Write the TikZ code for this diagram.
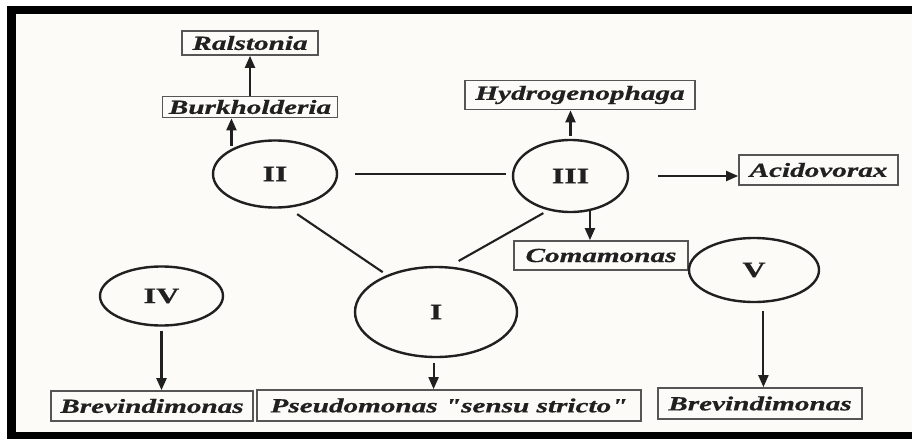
\documentclass[tikz,border=0pt]{standalone}
\usepackage{fontspec}
\setmainfont{Liberation Serif}
\newfontfamily\lblfont[FakeStretch=1.46,FakeBold=0.7]{Liberation Serif}
\usetikzlibrary{shapes.geometric,arrows.meta}
\definecolor{ink}{HTML}{202020}
\definecolor{paper}{HTML}{FCFBF8}
\definecolor{boxline}{HTML}{555555}
\begin{document}
\begin{tikzpicture}[x=1pt,y=-1pt,
  genus/.style={rectangle, draw=boxline, line width=1.7pt, inner sep=0pt, text=ink,
    font=\lblfont\bfseries\itshape\fontsize{20}{20}\selectfont},
  group/.style={ellipse, draw=ink, line width=2.4pt, inner sep=0pt, text=ink,
    font=\lblfont\bfseries\fontsize{22}{22}\selectfont},
  link/.style={draw=ink, line width=2.1pt},
  arrow/.style={link, -{Triangle[length=12pt,width=10pt]}}]
% page, frame and paper
\useasboundingbox (0,0) rectangle (912,439);
\fill[white] (0,0) rectangle (912,439);
\fill[black] (7,6) rectangle (912,439);
\fill[paper] (16,14) rectangle (912,432);

% genera
\node[genus, minimum width=136pt, minimum height=24pt] (ral) at (250,43) {Ralstonia};
\node[genus, minimum width=175pt, minimum height=21pt] (burk) at (250,107) {Burkholderia};
\node[genus, minimum width=230pt, minimum height=29pt] (hyd) at (580,95) {Hydrogenophaga};
\node[genus, minimum width=159pt, minimum height=30pt] (acid) at (818.5,170) {Acidovorax};
\node[genus, minimum width=174pt, minimum height=29pt] (coma) at (601,255.5) {Comamonas};
\node[genus, minimum width=202pt, minimum height=30pt] (brevL) at (152,406) {Brevindimonas};
\node[genus, minimum width=384pt, minimum height=31pt] (pseu) at (449,405.5) {Pseudomonas "sensu stricto"};
\node[genus, minimum width=204pt, minimum height=31pt] (brevR) at (760,403.5) {Brevindimonas};

% rRNA groups
\node[group, minimum width=124pt, minimum height=67pt] (II) at (275,174) {II};
\node[group, minimum width=115pt, minimum height=72pt] (III) at (570.5,176) {III};
\node[group, minimum width=162pt, minimum height=90pt] (I) at (436,312) {I};
\node[group, minimum width=123pt, minimum height=59pt] (IV) at (161.5,296) {IV};
\node[group, minimum width=130pt, minimum height=64pt] (V) at (754,270) {V};

% connectors
\draw[arrow] (burk.north) -- (ral.south);
\draw[arrow, shorten <=3pt] (II.150.8) -- (II.150.8 |- burk.south);
\draw[link, shorten <=17pt, shorten >=6pt] (II.east) -- (II.east -| III.west);
\draw[link, shorten <=11pt, shorten >=5pt] (II.-69) -- (I.143.5);
\draw[link, shorten <=5.5pt, shorten >=11pt] (III.-123.3) -- (I.74.3);
\draw[arrow, shorten <=3pt] (III.north) -- (III.north |- hyd.south);
\draw[arrow, shorten <=29pt] (III.east) -- (III.east -| acid.west);
\draw[arrow] (III.-61.4) -- (III.-61.4 |- coma.north);
\draw[arrow, shorten <=5pt] (I.-93) -- (I.-93 |- pseu.north);
\draw[arrow, shorten <=4pt] (IV.south) -- (IV.south |- brevL.north);
\draw[arrow, shorten <=8pt] (V.-74) -- (V.-74 |- brevR.north);
\end{tikzpicture}
\end{document}
